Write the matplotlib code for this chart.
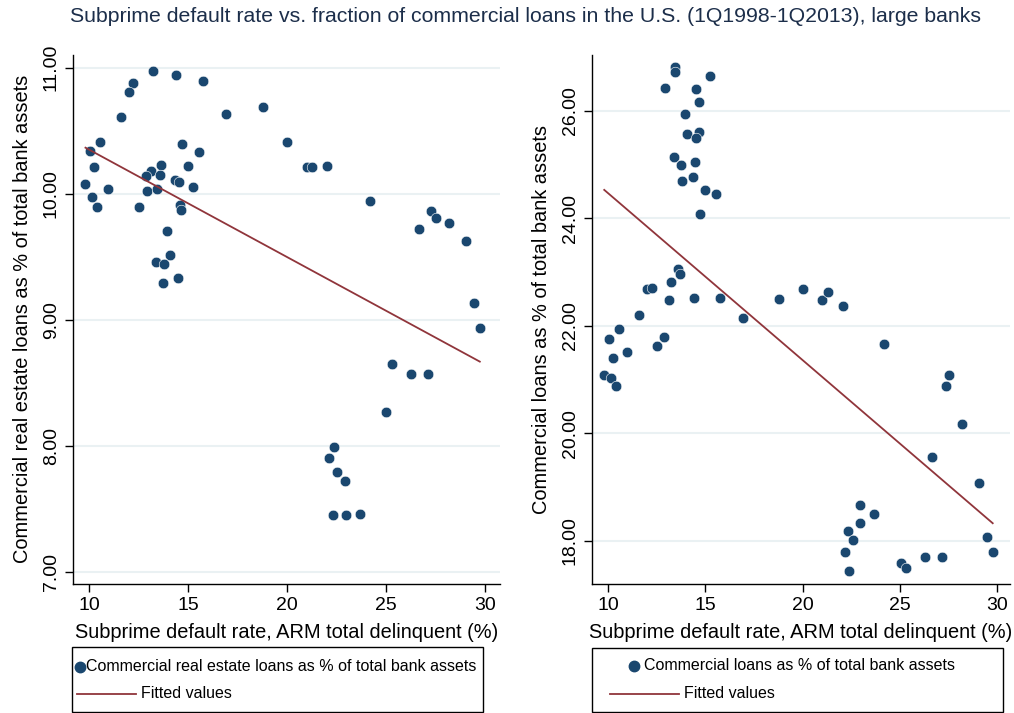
import numpy as np
import matplotlib
matplotlib.use("Agg")
import matplotlib.pyplot as plt
from matplotlib.lines import Line2D
from matplotlib.patches import Rectangle

plt.rcParams['font.family'] = ['Liberation Sans', 'DejaVu Sans']

title = "Subprime default rate vs. fraction of commercial loans in the U.S. (1Q1998-1Q2013), large banks"
xlabel = "Subprime default rate, ARM total delinquent (%)"
ylabel_left = "Commercial real estate loans as % of total bank assets"
ylabel_right = "Commercial loans as % of total bank assets"
legend_left = "Commercial real estate loans as % of total bank assets"
legend_right = "Commercial loans as % of total bank assets"
legend_fit = "Fitted values"

x_ticks = [10, 15, 20, 25, 30]
yticks_left = [7, 8, 9, 10, 11]
yticks_right = [18, 20, 22, 24, 26]

left_x = [13.21, 14.40, 15.73, 12.23, 12.02, 11.60, 16.92, 18.78, 19.97, 10.54,
          10.03, 14.70, 15.54, 10.25, 13.63, 15.00, 13.11, 12.87, 13.56, 14.33,
          14.53, 9.81, 10.97, 12.94, 13.44, 15.22, 10.12, 10.40, 12.52, 14.58,
          14.63, 13.93, 14.08, 13.38, 13.80, 14.50, 13.73, 20.98, 21.27, 22.02,
          24.17, 27.28, 27.53, 28.15, 26.64, 29.03, 29.45, 29.73, 25.30, 26.26,
          27.13, 25.01, 22.36, 22.13, 22.54, 22.91, 22.31, 22.95, 23.67]
left_y = [10.97, 10.94, 10.89, 10.88, 10.81, 10.61, 10.63, 10.69, 10.41, 10.41,
          10.34, 10.39, 10.33, 10.21, 10.23, 10.22, 10.18, 10.14, 10.15, 10.11,
          10.09, 10.08, 10.04, 10.02, 10.04, 10.05, 9.97, 9.89, 9.89, 9.91,
          9.87, 9.70, 9.51, 9.46, 9.44, 9.33, 9.29, 10.21, 10.21, 10.22,
          9.94, 9.86, 9.81, 9.77, 9.72, 9.62, 9.13, 8.93, 8.65, 8.57,
          8.57, 8.27, 7.99, 7.90, 7.79, 7.72, 7.45, 7.45, 7.46]

right_x = [13.44, 13.44, 15.26, 12.92, 14.50, 14.66, 13.95, 14.07, 14.66, 14.52,
           13.39, 13.73, 14.48, 13.81, 14.35, 15.00, 15.54, 14.71, 13.58, 13.67,
           13.22, 12.01, 12.25, 13.13, 14.42, 15.74, 16.93, 18.78, 20.00, 11.58,
           10.54, 10.02, 12.89, 12.51, 10.98, 10.23, 9.79, 10.12, 10.41, 21.02,
           21.31, 22.06, 24.21, 27.56, 27.36, 28.22, 26.67, 29.07, 22.97, 23.70,
           22.94, 22.32, 22.61, 22.16, 22.39, 25.07, 25.35, 26.29, 27.16, 29.48, 29.79]
right_y = [26.81, 26.72, 26.65, 26.43, 26.40, 26.17, 25.94, 25.56, 25.61, 25.49,
           25.14, 24.99, 25.04, 24.69, 24.77, 24.52, 24.45, 24.08, 23.05, 22.96,
           22.82, 22.69, 22.70, 22.47, 22.52, 22.52, 22.15, 22.49, 22.68, 22.19,
           21.93, 21.75, 21.79, 21.63, 21.51, 21.39, 21.08, 21.03, 20.88, 22.48,
           22.62, 22.37, 21.65, 21.08, 20.87, 20.17, 19.55, 19.08, 18.66, 18.49,
           18.32, 18.17, 18.01, 17.79, 17.44, 17.58, 17.48, 17.70, 17.70, 18.07, 17.78]

MARKER = '#1a476f'
FIT = '#90353b'
GRID = '#eaf1f3'
TITLE_C = '#1c2e4a'

W, H = 1014, 713
fig = plt.figure(figsize=(W / 100, H / 100), dpi=100)


def fx(px):
    return px / W


def fy(py):
    return 1 - py / H


def make_axes(x0, x1, y0, y1):
    return fig.add_axes([fx(x0), fy(y1), fx(x1) - fx(x0), fy(y0) - fy(y1)])


def style(ax, xs, ys, yticks, xlim, ylim, ylab):
    ax.scatter(xs, ys, s=58, color=MARKER, edgecolors='white', linewidths=0.4, zorder=3)
    xs_a = np.array(xs)
    ys_a = np.array(ys)
    b, a = np.polyfit(xs_a, ys_a, 1)
    xl = np.array([xs_a.min(), xs_a.max()])
    ax.plot(xl, a + b * xl, color=FIT, lw=1.3, zorder=4)
    ax.set_xlim(*xlim)
    ax.set_ylim(*ylim)
    ax.set_xticks(x_ticks)
    ax.set_yticks(yticks)
    ax.set_yticklabels([f"{v:.2f}" for v in yticks], rotation=90, va='center')
    ax.tick_params(direction='out', length=5.5, width=1, labelsize=14, pad=4)
    ax.grid(axis='y', color=GRID, lw=1.5, zorder=0)
    ax.set_axisbelow(True)
    for s in ['top', 'right']:
        ax.spines[s].set_visible(False)
    for s in ['left', 'bottom']:
        ax.spines[s].set_linewidth(1.0)
    ax.set_xlabel(xlabel, fontsize=14.4, labelpad=7)
    ax.set_ylabel(ylab, fontsize=14.4, labelpad=8)


axL = make_axes(73, 500, 55, 583.5)
style(axL, left_x, left_y, yticks_left, (9.18, 30.75), (6.906, 11.10), ylabel_left)

axR = make_axes(592, 1010, 55, 583.5)
style(axR, right_x, right_y, yticks_right, (9.16, 30.68), (17.20, 27.04), ylabel_right)

fig.text(fx(526), fy(17), title, fontsize=15.3, color=TITLE_C, ha='center', va='center')


def legend_box(x0, x1, y0, y1, mx, my, tx, lx0, lx1, ly, ltx, label):
    fig.patches.append(Rectangle((fx(x0), fy(y1)), fx(x1) - fx(x0), fy(y0) - fy(y1),
                                 transform=fig.transFigure, fill=False,
                                 edgecolor='black', lw=1.0))
    fig.lines.append(Line2D([fx(mx)], [fy(my)], transform=fig.transFigure,
                            marker='o', markersize=7.5, color=MARKER, linestyle='none'))
    fig.text(fx(tx), fy(my), label, fontsize=11.5, ha='left', va='center')
    fig.lines.append(Line2D([fx(lx0), fx(lx1)], [fy(ly), fy(ly)], transform=fig.transFigure,
                            color=FIT, lw=1.3))
    fig.text(fx(ltx), fy(ly), legend_fit, fontsize=11.5, ha='left', va='center')


legend_box(72, 483, 647, 711.5, 79.5, 666.5, 86, 77, 136, 693.5, 141, legend_left)
legend_box(592, 1003, 648, 711.5, 633.5, 665.5, 644, 610, 679, 694, 684, legend_right)

fig.savefig('out.png', dpi=100)
